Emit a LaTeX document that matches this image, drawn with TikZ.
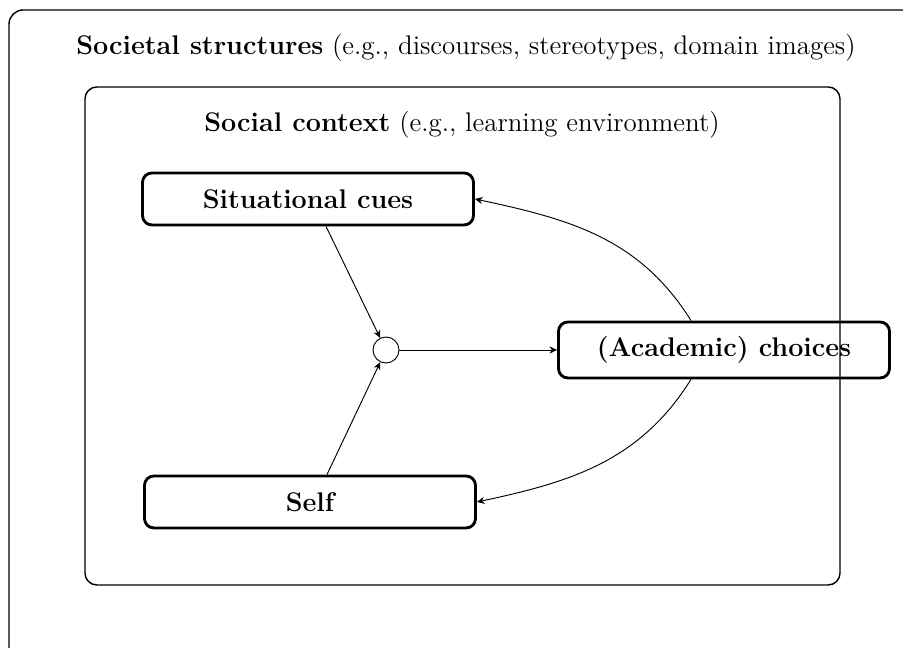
\documentclass[tikz,border=0pt]{standalone}
\usetikzlibrary{arrows.meta,calc}
\begin{document}
\begin{tikzpicture}[x=0.423pt,y=0.423pt,
  every node/.style={font=\fontsize{11.4pt}{13.7pt}\selectfont},
  cbox/.style={draw,very thick,rounded corners=4pt,minimum width=331*0.423pt,minimum height=52*0.423pt,font=\fontsize{11.4pt}{13.7pt}\selectfont\bfseries,inner sep=0pt},
  conn/.style={-{Stealth[length=3.2pt,width=3pt,inset=1pt]},thin},
  frame/.style={draw,semithick,rounded corners=5pt}]
\useasboundingbox (0,0) rectangle (903,648);
\begin{scope}
\clip (0,0) rectangle (903,648);
\draw[frame,rounded corners=6pt] (9,-60) rectangle (960,638);
\end{scope}
\node (soc) at (466,600) {\textbf{Societal structures} (e.g., discourses, stereotypes, domain images)};
\draw[frame] (85,63) rectangle (840,561);
\node (ctx) at (462,523) {\textbf{Social context} (e.g., learning environment)};
\node[cbox] (sit) at (308,449) {Situational cues};
\node[cbox] (self) at (310,146) {Self};
\node[cbox,minimum height=56*0.423pt] (acad) at (724,298) {(Academic) choices};
\node[draw,circle,minimum size=26*0.423pt,inner sep=0pt] (c) at (386,298) {};
\draw[conn] ($(sit.south)+(18,0)$) -- (c);
\draw[conn] ($(self.north)+(17,0)$) -- (c);
\draw[conn] (c) -- (acad);
\draw[conn] ($(acad.north)+(-33,0)$) to[out=122,in=-12] (sit.east);
\draw[conn] ($(acad.south)+(-33,0)$) to[out=-122,in=12] (self.east);
\end{tikzpicture}
\end{document}
